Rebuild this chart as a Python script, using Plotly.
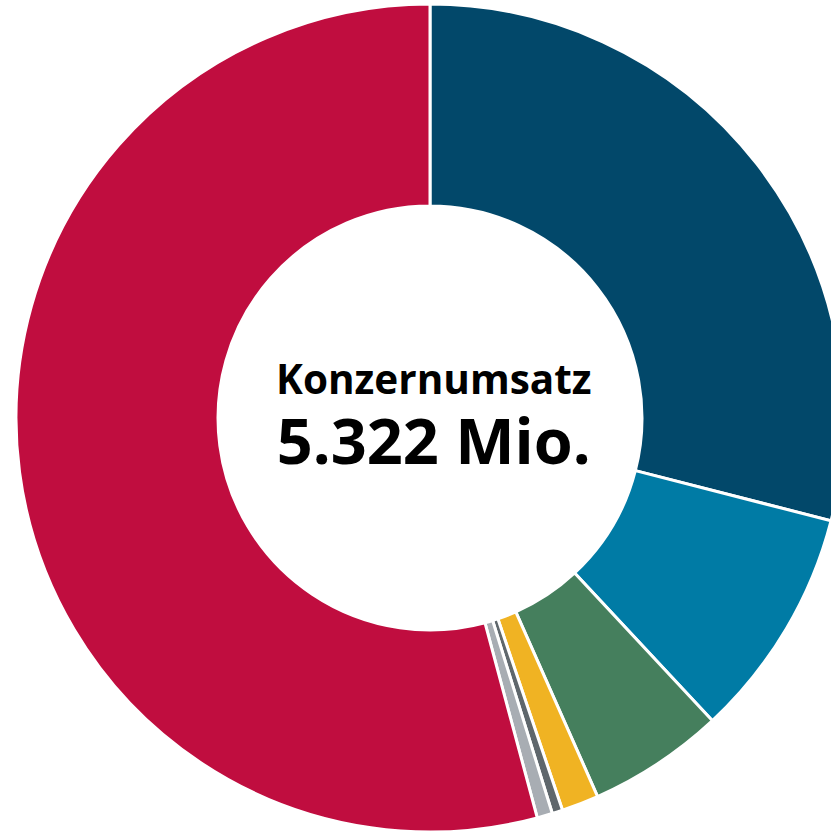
import plotly.graph_objects as go

labels = ["Segment 1", "Segment 2", "Segment 3", "Segment 4", "Segment 5", "Segment 6", "Segment 7"]
values = [1543, 482, 283, 77, 22, 32, 2883]
colors = ["#02486a", "#007ba5", "#457f5d", "#f0b323", "#5f676c", "#a8adb3", "#c00d3f"]
center_title = "Konzernumsatz"
center_value = "5.322 Mio."

W, H = 860, 840
cx, cy, r = 430, 418, 414

fig = go.Figure(go.Pie(
    labels=labels,
    values=values,
    marker=dict(colors=colors, line=dict(color="white", width=3)),
    hole=0.512,
    sort=False,
    direction="clockwise",
    rotation=0,
    textinfo="none",
    showlegend=False,
    domain=dict(x=[(cx - r) / W, (cx + r) / W], y=[1 - (cy + r) / H, 1 - (cy - r) / H]),
))

center_text = (f"<span style='font-size:40.5px'><b>{center_title}</b></span><br>"
               f"<span style='font-size:63px'><b>{center_value}</b></span>")
fig.add_annotation(x=433.5 / W, y=1 - 416 / H, xref="paper", yref="paper",
                   borderpad=0, text=center_text, showarrow=False,
                   font=dict(family="Open Sans", size=54, color="black"))

fig.update_layout(width=W, height=H, margin=dict(l=0, r=0, t=0, b=0),
                  paper_bgcolor="white", plot_bgcolor="white")
fig.write_html("out.html", config={"displayModeBar": False},
               post_script="document.body.style.margin='0';document.body.style.overflow='hidden';")
